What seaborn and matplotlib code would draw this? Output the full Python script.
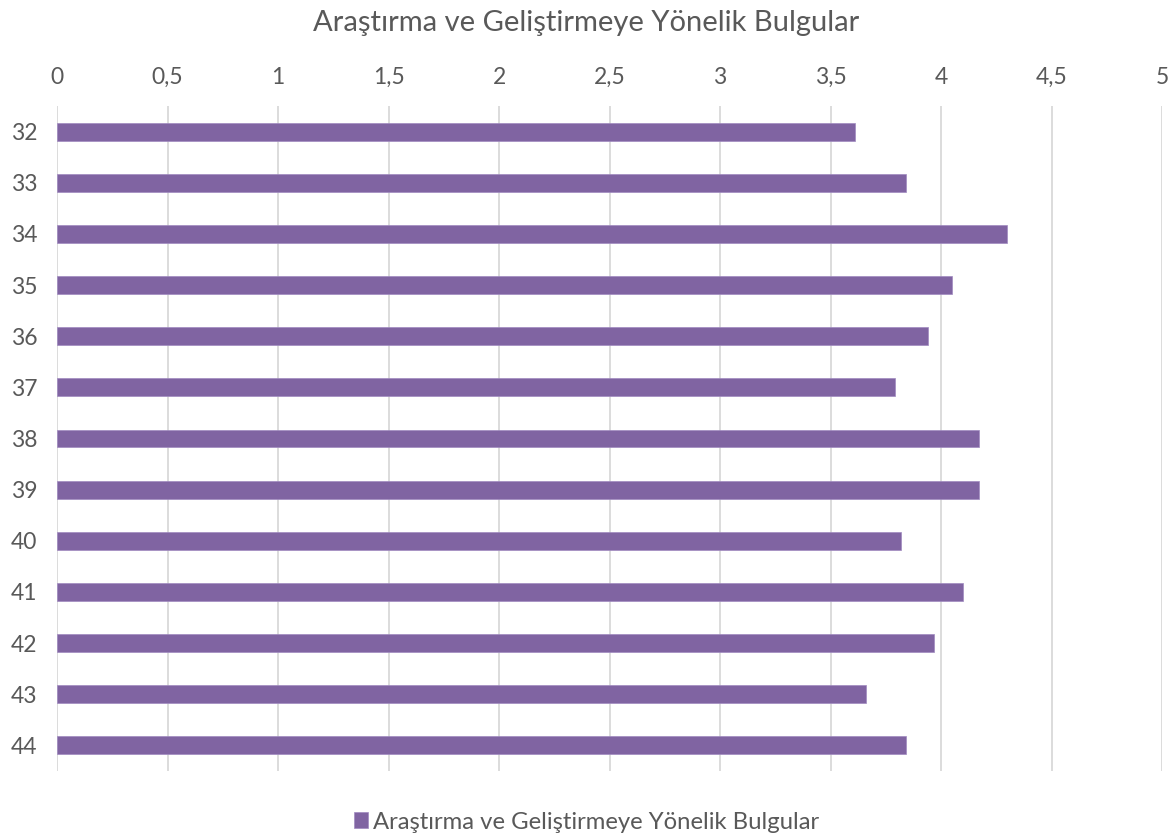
import pandas as pd
import matplotlib.pyplot as plt
import seaborn as sns

categories = ["32", "33", "34", "35", "36", "37", "38", "39", "40", "41", "42", "43", "44"]
values = [3.61, 3.84, 4.30, 4.05, 3.94, 3.79, 4.17, 4.17, 3.82, 4.10, 3.97, 3.66, 3.84]
x_ticks = [0, 0.5, 1, 1.5, 2, 2.5, 3, 3.5, 4, 4.5, 5]
x_tick_labels = ["0", "0,5", "1", "1,5", "2", "2,5", "3", "3,5", "4", "4,5", "5"]
series_name = "Araştırma ve Geliştirmeye Yönelik Bulgular"

bar_color = "#8064A2"
text_color = "#595959"
grid_color = "#D9D9D9"

sns.set_theme(style="white")
plt.rcParams["font.family"] = ["Lato", "DejaVu Sans"]

df = pd.DataFrame({"item": categories, "score": values})

fig = plt.figure(figsize=(11.73, 8.38), dpi=100)
ax = fig.add_axes([57 / 1173, 1 - 771 / 838, (1162 - 57) / 1173, (771 - 106) / 838])

# saturation=1 so seaborn keeps the exact purple
sns.barplot(data=df, x="score", y="item", orient="h", color=bar_color,
            saturation=1, width=0.35, edgecolor="#A08AC0", linewidth=0.5,
            ax=ax, label=series_name, zorder=3)

ax.set_xlim(0, 5)
ax.set_ylim(len(categories) - 0.5, -0.5)
ax.set_xticks(x_ticks)
ax.set_xticklabels(x_tick_labels)
ax.xaxis.tick_top()
ax.grid(axis="x", color=grid_color, linewidth=1.3, zorder=0)
ax.grid(axis="y", visible=False)
for s in ax.spines.values():
    s.set_visible(False)
ax.tick_params(axis="x", length=0, pad=13, labelsize=16.5, labelcolor=text_color)
ax.tick_params(axis="y", length=0, pad=14, labelsize=16.5, labelcolor=text_color)
ax.set_xlabel("")
ax.set_ylabel("")

fig.text(0.5, 1 - 23 / 838, series_name, ha="center", va="center",
         fontsize=21, color=text_color)

handles, labels = ax.get_legend_handles_labels()
ax.legend(handles, labels, loc="center", bbox_to_anchor=(0.5, 1 - 822 / 838),
          bbox_transform=fig.transFigure, frameon=False, fontsize=17.2,
          labelcolor=text_color, handlelength=0.6, handleheight=0.6,
          handletextpad=0.2)

fig.savefig("out.png", dpi=100)
